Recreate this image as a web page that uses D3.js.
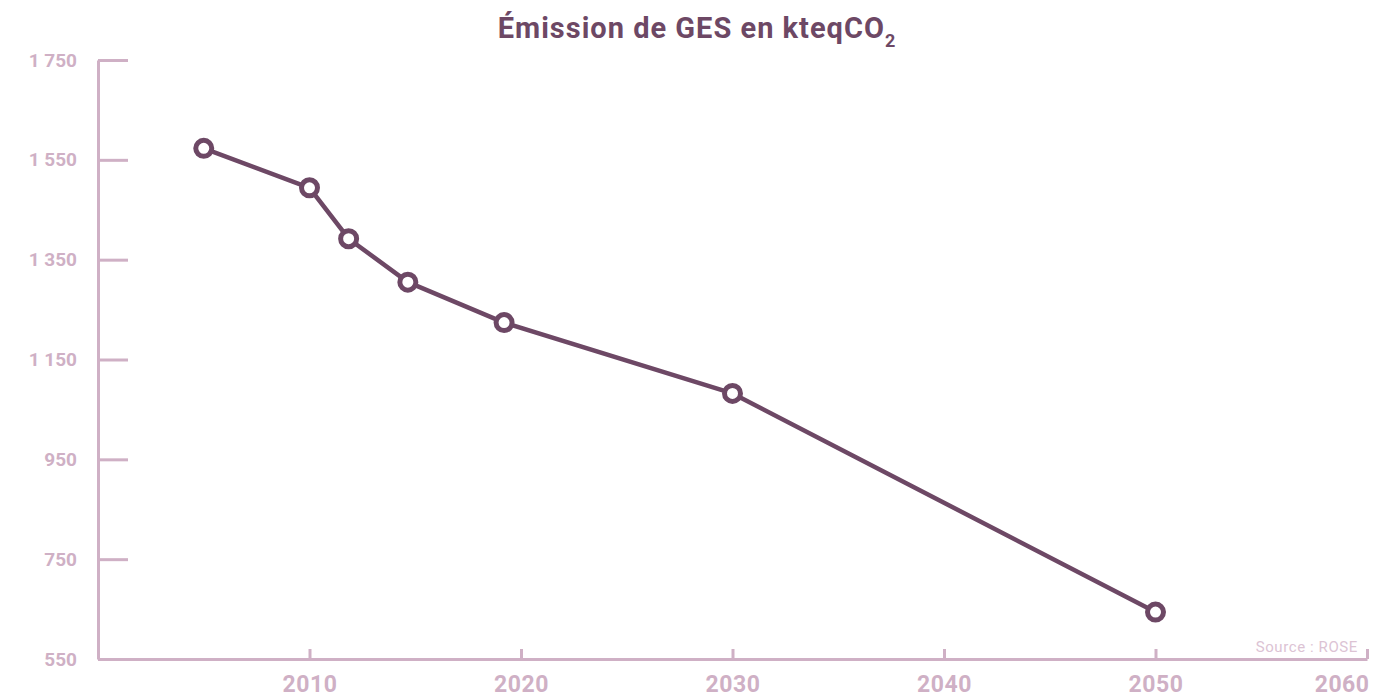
<!DOCTYPE html>
<html>
<head>
<meta charset="utf-8">
<script src="https://cdn.jsdelivr.net/npm/d3@7"></script>
<style>
  body { margin: 0; background: #fff; }
  text { font-family: Roboto, "DejaVu Sans", sans-serif; }
</style>
</head>
<body>
<script>
// data
var years = [2005, 2010, 2011.85, 2014.65, 2019.2, 2030, 2050];
var emissions = [1573, 1494, 1392, 1305, 1224, 1082, 644];
var yTicks = [550, 750, 950, 1150, 1350, 1550, 1750];
var xTicks = [2010, 2020, 2030, 2040, 2050, 2060];

var w = 1376, h = 697;
var lineColor = "#6d4865";
var axisColor = "#cfb0c5";

var frFormat = d3.formatLocale({decimal: ",", thousands: " ", grouping: [3], currency: ["", " €"]}).format(",d");

var xScale = d3.scaleLinear().domain([2000, 2060]).range([98, 1367]);
var yScale = d3.scaleLinear().domain([550, 1750]).range([659, 60]);

var svg = d3.select("body").append("svg")
  .attr("width", w)
  .attr("height", h);

// title
var title = svg.append("text")
  .attr("x", 697)
  .attr("y", 38)
  .attr("text-anchor", "middle")
  .attr("font-size", "29px")
  .attr("font-weight", "bold")
  .attr("letter-spacing", "1px")
  .attr("fill", lineColor);
title.append("tspan").text("Émission de GES en kteqCO");
title.append("tspan").text("2").attr("font-size", "18px").attr("dy", "9");

// y axis
var yAxis = svg.append("g")
  .attr("transform", "translate(98,0)")
  .call(d3.axisLeft(yScale).tickValues(yTicks).tickSizeInner(-30).tickSizeOuter(0).tickPadding(21).tickFormat(frFormat));

// x axis
var xAxis = svg.append("g")
  .attr("transform", "translate(0,659)")
  .call(d3.axisBottom(xScale).tickValues(xTicks).tickSizeInner(-10).tickSizeOuter(0).tickPadding(17).tickFormat(d3.format("d")));

[yAxis, xAxis].forEach(function(g) {
  g.selectAll("path, line")
    .attr("stroke", axisColor)
    .attr("stroke-width", 3);
  g.selectAll("text")
    .attr("fill", axisColor)
    .attr("font-family", "Roboto, sans-serif")
    .attr("font-weight", "bold");
});
yAxis.selectAll("text").attr("font-size", "19px");
xAxis.selectAll("text").attr("font-size", "23px").attr("letter-spacing", "0.5px");
xAxis.selectAll(".tick").filter(function(d) { return d === 2060; })
  .select("text")
  .attr("text-anchor", "end")
  .attr("x", 2);

// source
svg.append("text")
  .attr("x", 1358)
  .attr("y", 652)
  .attr("text-anchor", "end")
  .attr("font-size", "15px")
  .attr("letter-spacing", "0.6px")
  .attr("fill", "#dcc3d4")
  .text("Source : ROSE");

// line + markers
var points = years.map(function(d, i) { return [d, emissions[i]]; });

svg.append("path")
  .datum(points)
  .attr("fill", "none")
  .attr("stroke", lineColor)
  .attr("stroke-width", 4.5)
  .attr("stroke-linejoin", "round")
  .attr("d", d3.line()
    .x(function(d) { return xScale(d[0]); })
    .y(function(d) { return yScale(d[1]); }));

svg.selectAll("circle")
  .data(points)
  .enter()
  .append("circle")
  .attr("cx", function(d) { return xScale(d[0]); })
  .attr("cy", function(d) { return yScale(d[1]); })
  .attr("r", 8)
  .attr("fill", "#fff")
  .attr("stroke", lineColor)
  .attr("stroke-width", 5);
</script>
</body>
</html>
